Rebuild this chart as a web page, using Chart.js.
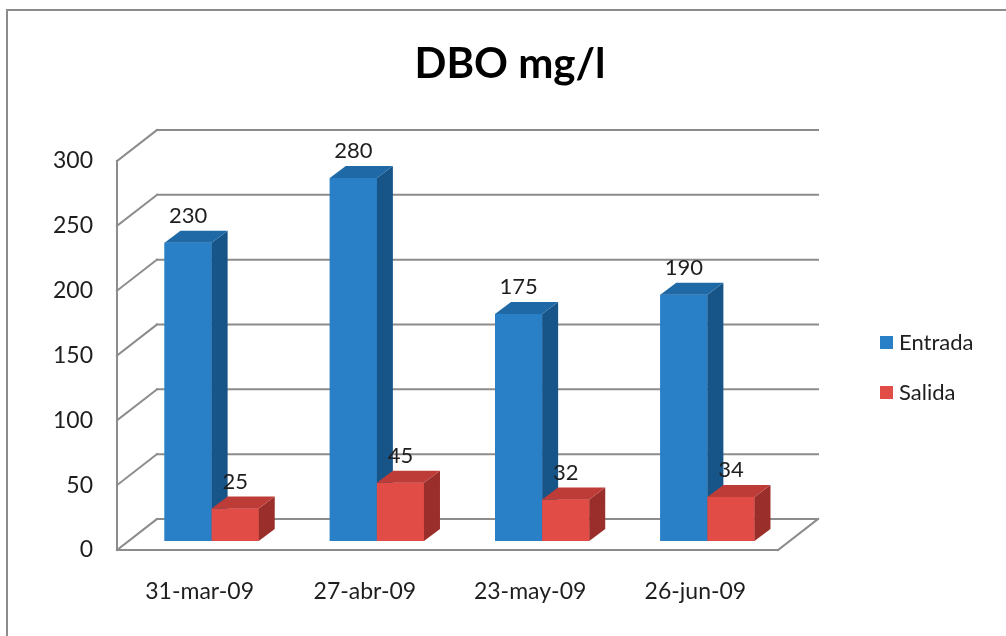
<!DOCTYPE html>
<html>
<head>
<meta charset="utf-8">
<title>DBO mg/l</title>
<script src="https://cdn.jsdelivr.net/npm/chart.js@4/dist/chart.umd.min.js"></script>
<style>
  html, body { margin: 0; padding: 0; background: #ffffff; }
  #c { display: block; }
</style>
</head>
<body>
<canvas id="c" width="1006" height="636"></canvas>
<script>
// Sampling dates and measured DBO (mg/l) at plant inlet and outlet
const categories = ['31-mar-09', '27-abr-09', '23-may-09', '26-jun-09'];
const entrada = [230, 280, 175, 190];
const salida = [25, 45, 32, 34];
const seriesNames = ['Entrada', 'Salida'];
const yTicks = [0, 50, 100, 150, 200, 250, 300];
const chartTitle = 'DBO mg/l';

// Face colours: front, side, top
const palette = [
  { front: '#2A80C6', side: '#175488', top: '#1F6AA6' },
  { front: '#E24C46', side: '#9A2E2A', top: '#BE3C37' }
];

// Perspective offsets (relative to the plane the bars stand in)
const FRONT = { dx: -12, dy: 9 };
const BACK = { dx: 28, dy: -22 };
const DEPTH = { dx: 16, dy: -12 };

const FONT = 'Lato, "Open Sans", "DejaVu Sans", sans-serif';
const GRID = '#8c8c8c';
const INK = '#1e1e1e';

function line(ctx, x1, y1, x2, y2) {
  ctx.beginPath();
  ctx.moveTo(x1, y1);
  ctx.lineTo(x2, y2);
  ctx.stroke();
}

function poly(ctx, pts, color) {
  ctx.beginPath();
  ctx.moveTo(pts[0][0], pts[0][1]);
  for (let i = 1; i < pts.length; i++) ctx.lineTo(pts[i][0], pts[i][1]);
  ctx.closePath();
  ctx.fillStyle = color;
  ctx.fill();
}

// Walls, floor, gridlines, axis labels, title, legend and frame
const frame3d = {
  id: 'frame3d',
  beforeDatasetsDraw(chart) {
    const ctx = chart.ctx;
    const ys = chart.scales.y;
    const xs = chart.scales.x;
    const left = chart.chartArea.left;
    const right = chart.chartArea.right;
    ctx.save();
    ctx.strokeStyle = GRID;
    ctx.lineWidth = 2;
    ctx.lineCap = 'square';

    // outer frame
    line(ctx, 7, 10, 1010, 10);
    line(ctx, 7, 10, 7, 640);

    yTicks.forEach(v => {
      const y = ys.getPixelForValue(v);
      // back wall gridline
      line(ctx, left + BACK.dx, y + BACK.dy, right + BACK.dx, y + BACK.dy);
      // side wall diagonal
      line(ctx, left + FRONT.dx, y + FRONT.dy, left + BACK.dx, y + BACK.dy);
    });

    const y0 = ys.getPixelForValue(0);
    const yTop = ys.getPixelForValue(yTicks[yTicks.length - 1]);
    // left front edge
    line(ctx, left + FRONT.dx, y0 + FRONT.dy, left + FRONT.dx, yTop + FRONT.dy);
    // floor front and right edges
    line(ctx, left + FRONT.dx, y0 + FRONT.dy, right + FRONT.dx, y0 + FRONT.dy);
    line(ctx, right + FRONT.dx, y0 + FRONT.dy, right + BACK.dx, y0 + BACK.dy);

    // value axis labels
    ctx.fillStyle = INK;
    ctx.font = '23px ' + FONT;
    ctx.textAlign = 'right';
    ctx.textBaseline = 'middle';
    yTicks.forEach(v => {
      ctx.fillText(String(v), 93, ys.getPixelForValue(v) + FRONT.dy);
    });

    // category labels
    ctx.textAlign = 'center';
    categories.forEach((c, i) => {
      ctx.fillText(c, xs.getPixelForValue(i) + FRONT.dx, 592);
    });

    // title
    ctx.fillStyle = '#000000';
    ctx.font = 'bold 42px ' + FONT;
    ctx.textBaseline = 'alphabetic';
    ctx.fillText(chartTitle, 510, 78);

    // legend
    ctx.font = '22px ' + FONT;
    ctx.textAlign = 'left';
    ctx.textBaseline = 'middle';
    const legendY = [343, 393];
    chart.data.datasets.forEach((ds, d) => {
      ctx.fillStyle = palette[d].front;
      ctx.fillRect(880, legendY[d] - 7, 13, 13);
      ctx.fillStyle = INK;
      ctx.fillText(ds.label, 899, legendY[d]);
    });
    ctx.restore();
  },

  // solid bars: front, side and top faces, category by category
  afterDatasetsDraw(chart) {
    const ctx = chart.ctx;
    const metas = chart.data.datasets.map((_, d) => chart.getDatasetMeta(d));
    ctx.save();
    categories.forEach((_, i) => {
      metas.forEach((meta, d) => {
        const el = meta.data[i];
        const p = el.getProps(['x', 'y', 'base', 'width'], true);
        const l = p.x - p.width / 2;
        const r = p.x + p.width / 2;
        const t = p.y;
        const b = p.base;
        poly(ctx, [[l, t], [r, t], [r, b], [l, b]], palette[d].front);
        poly(ctx, [[r, t], [r + DEPTH.dx, t + DEPTH.dy], [r + DEPTH.dx, b + DEPTH.dy], [r, b]], palette[d].side);
        poly(ctx, [[l, t], [l + DEPTH.dx, t + DEPTH.dy], [r + DEPTH.dx, t + DEPTH.dy], [r, t]], palette[d].top);
      });
    });

    // value labels above each bar
    ctx.fillStyle = INK;
    ctx.font = '22px ' + FONT;
    ctx.textAlign = 'center';
    ctx.textBaseline = 'middle';
    metas.forEach((meta, d) => {
      meta.data.forEach((el, i) => {
        const p = el.getProps(['x', 'y'], true);
        ctx.fillText(String(chart.data.datasets[d].data[i]), p.x, p.y - 27);
      });
    });
    ctx.restore();
  }
};

new Chart(document.getElementById('c'), {
  type: 'bar',
  data: {
    labels: categories,
    datasets: [
      { label: seriesNames[0], data: entrada, backgroundColor: palette[0].front,
        categoryPercentage: 0.57, barPercentage: 1.0 },
      { label: seriesNames[1], data: salida, backgroundColor: palette[1].front,
        categoryPercentage: 0.57, barPercentage: 1.0 }
    ]
  },
  options: {
    responsive: false,
    animation: false,
    devicePixelRatio: 1,
    layout: { padding: { left: 129, right: 216, top: 152, bottom: 95 } },
    scales: {
      x: { display: false },
      y: { display: false, min: 0, max: 300 }
    },
    plugins: {
      legend: { display: false },
      title: { display: false },
      tooltip: { enabled: false }
    }
  },
  plugins: [frame3d]
});
</script>
</body>
</html>
